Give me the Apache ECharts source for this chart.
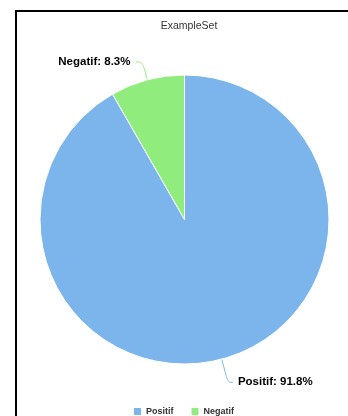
<!DOCTYPE html>
<html>
<head>
<meta charset="UTF-8">
<title>ExampleSet</title>
<script src="https://cdn.jsdelivr.net/npm/echarts@6/dist/echarts.min.js"></script>
<style>
  body { margin: 0; background: #fff; }
  #chartArea { position: absolute; left: 0; top: 0; width: 348px; height: 416px; }
  #frame { position: absolute; left: 15px; top: 10px; width: 400px; height: 500px;
           border-top: 2px solid #000; border-left: 2px solid #000; pointer-events: none; }
</style>
</head>
<body>
<div id="chartArea"></div>
<div id="frame"></div>
<script type="text/javascript">
var categories = ['Positif', 'Negatif'];
var values = [91.8, 8.3];
var colors = ['#7cb5ec', '#90ed7d'];
var lineLengths = [24, 18.6];
var lineLengths2 = [5, 7];

var myChart = echarts.init(document.getElementById('chartArea'));

var pieData = [];
for (var i = 0; i < categories.length; i++) {
  pieData.push({
    name: categories[i],
    value: values[i],
    itemStyle: { color: colors[i] },
    labelLine: { length: lineLengths[i], length2: lineLengths2[i] }
  });
}

var option = {
  animation: false,
  title: {
    text: 'ExampleSet',
    left: 184,
    textAlign: 'center',
    top: 16,
    textStyle: { fontFamily: 'Liberation Sans', fontSize: 10.5, fontWeight: 'normal', color: '#333' }
  },
  legend: {
    data: categories,
    left: 129,
    top: 402,
    itemWidth: 7,
    itemHeight: 7,
    itemGap: 18,
    icon: 'rect',
    itemStyle: { borderWidth: 0 },
    textStyle: { fontFamily: 'Liberation Sans', fontSize: 9, fontWeight: 'bold', color: '#333' }
  },
  series: [{
    type: 'pie',
    center: [184.5, 219.5],
    radius: 144.5,
    startAngle: 90,
    clockwise: true,
    itemStyle: { borderColor: '#fff', borderWidth: 1 },
    label: {
      show: true,
      formatter: '{b}: {c}%',
      fontFamily: 'Liberation Sans',
      fontSize: 11.5,
      fontWeight: 'bold',
      color: '#000'
    },
    labelLine: { show: true, smooth: 0.4, lineStyle: { width: 1 } },
    emphasis: { disabled: true },
    data: pieData
  }]
};
myChart.setOption(option);
</script>
</body>
</html>
